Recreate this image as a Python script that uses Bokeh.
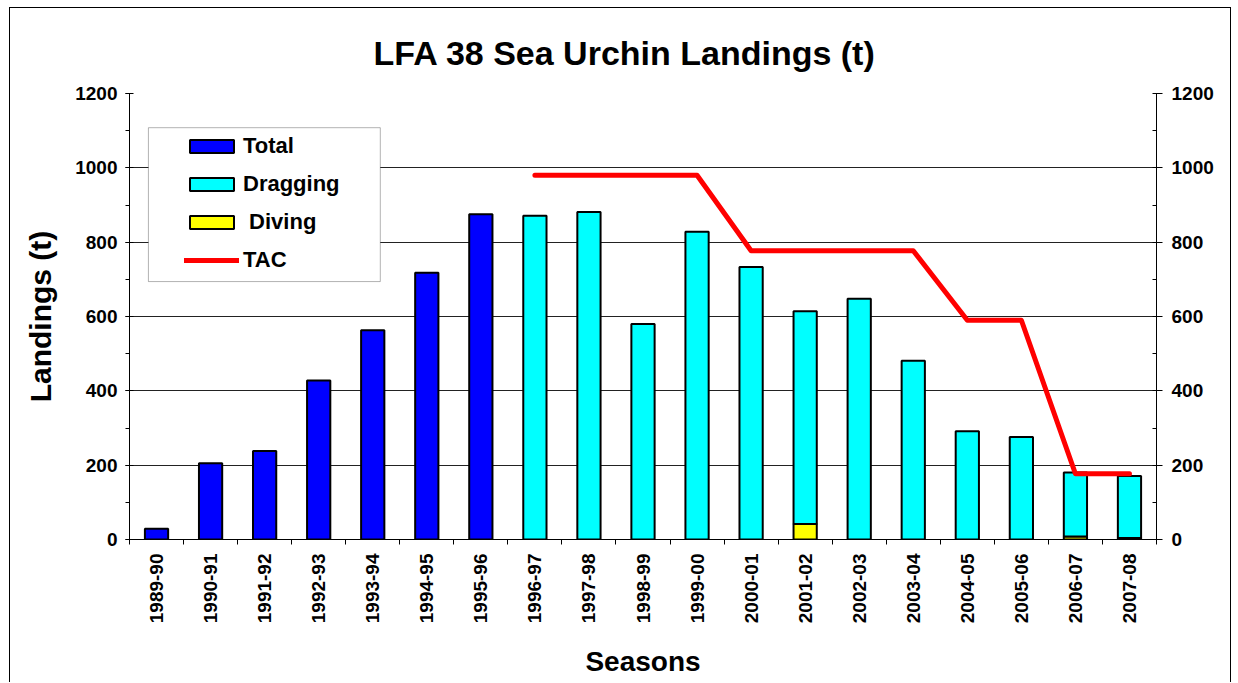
import numpy as np
from bokeh.plotting import figure
from bokeh.models import (Range1d, LinearAxis, FixedTicker, Legend, LegendItem,
                          BoxAnnotation)
from bokeh.embed import file_html
from bokeh.resources import INLINE

# ---------------- data ----------------
seasons = ["1989-90", "1990-91", "1991-92", "1992-93", "1993-94", "1994-95",
           "1995-96", "1996-97", "1997-98", "1998-99", "1999-00", "2000-01",
           "2001-02", "2002-03", "2003-04", "2004-05", "2005-06", "2006-07",
           "2007-08"]
total_seasons = seasons[:7]
total = [29, 205, 238, 428, 563, 718, 875]
split_seasons = seasons[7:]
dragging = [871, 881, 580, 828, 733, 572, 648, 481, 291, 276, 172, 167]
diving = [0, 0, 0, 0, 0, 42, 0, 0, 0, 0, 8, 4]
tac = [980, 980, 980, 980, 777, 777, 777, 777, 590, 590, 177, 177]
y_ticks = [0, 200, 400, 600, 800, 1000, 1200]

FONT = "Liberation Sans"

pos = {s: i + 0.5 for i, s in enumerate(seasons)}
x_total = [pos[s] for s in total_seasons]
x_split = [pos[s] for s in split_seasons]
drag_top = [d + v for d, v in zip(diving, dragging)]

p = figure(width=1222, height=675, output_backend="svg", toolbar_location=None,
           x_range=Range1d(0, len(seasons)), y_range=Range1d(0, 1200),
           min_border_left=119, min_border_right=76, min_border_top=85,
           min_border_bottom=144, background_fill_color="white",
           border_fill_color="white", outline_line_color=None,
           styles={"margin-left": "9px", "margin-top": "7px",
                   "border-top": "1px solid #000", "border-left": "1px solid #000",
                   "border-right": "1px solid #000"})

# title
p.title.text = "LFA 38 Sea Urchin Landings (t)"
p.title.align = "left"
p.title.offset = 244
p.title.text_font = FONT
p.title.text_font_size = "34px"
p.title.text_font_style = "bold"
p.title.text_color = "black"
p.title.standoff = 44

# grid
p.xgrid.visible = False
p.ygrid.ticker = FixedTicker(ticks=y_ticks)
p.ygrid.grid_line_color = "#222222"
p.ygrid.grid_line_width = 1

# y axes
yticker = FixedTicker(ticks=y_ticks, minor_ticks=list(range(0, 1201, 100)))
ly = p.yaxis[0]
ly.ticker = yticker
ly.axis_label = "Landings (t)"
ly.axis_label_text_font = FONT
ly.axis_label_text_font_size = "30px"
ly.axis_label_text_font_style = "bold"
ly.axis_label_text_color = "black"
ly.axis_label_standoff = 15
ly.major_label_text_font = FONT
ly.major_label_text_font_size = "19px"
ly.major_label_text_font_style = "bold"
ly.major_label_text_color = "black"
ly.major_label_standoff = 8
ly.axis_line_color = "black"
ly.major_tick_in = 4
ly.major_tick_out = 4
ly.minor_tick_in = 0
ly.minor_tick_out = 4
ly.major_tick_line_color = "black"
ly.minor_tick_line_color = "black"

ry = LinearAxis(ticker=yticker, major_label_text_font=FONT,
                major_label_text_font_size="19px", major_label_text_font_style="bold",
                major_label_text_color="black", major_label_standoff=9,
                axis_line_color="black", major_tick_in=3, major_tick_out=6,
                minor_tick_in=4, minor_tick_out=0,
                major_tick_line_color="black", minor_tick_line_color="black")
p.add_layout(ry, "right")

# x axis
xa = p.xaxis[0]
xa.ticker = FixedTicker(ticks=[pos[s] for s in seasons],
                        minor_ticks=list(range(0, len(seasons) + 1)))
xa.major_label_overrides = {pos[s]: s for s in seasons}
xa.major_label_orientation = np.pi / 2
xa.major_label_text_font = FONT
xa.major_label_text_font_size = "19px"
xa.major_label_text_font_style = "bold"
xa.major_label_text_color = "black"
xa.major_tick_line_color = None
xa.major_tick_in = 0
xa.major_tick_out = 5
xa.major_label_standoff = 9
xa.minor_tick_in = 0
xa.minor_tick_out = 5
xa.minor_tick_line_color = "black"
xa.axis_line_color = "black"
xa.axis_label = "Seasons"
xa.axis_label_text_font = FONT
xa.axis_label_text_font_size = "28px"
xa.axis_label_text_font_style = "bold"
xa.axis_label_text_color = "black"
xa.axis_label_standoff = 20

BW = 0.43
r_total = p.vbar(x=x_total, top=total, bottom=0, width=BW, fill_color="#0000FF",
                 line_color="black", line_width=2)
dv_x = [x for x, d in zip(x_split, diving) if d > 0]
dv_top = [d for d in diving if d > 0]
r_div = p.vbar(x=dv_x, top=dv_top, bottom=0, width=BW, fill_color="#FFFF00",
               line_color="black", line_width=2)
r_drag = p.vbar(x=x_split, top=drag_top, bottom=diving, width=BW,
                fill_color="#00FFFF", line_color="black", line_width=2)
r_tac = p.line(x=x_split, y=tac, line_color="#FF0000", line_width=5,
               line_cap="round", line_join="round")

# legend box
box = BoxAnnotation(left=0.35, right=4.64, top=1108, bottom=694,
                    fill_color="white", fill_alpha=1.0, line_color="black",
                    line_width=1, level="annotation")
p.add_layout(box)

legend = Legend(items=[LegendItem(label="Total", renderers=[r_total]),
                       LegendItem(label="Dragging", renderers=[r_drag]),
                       LegendItem(label=" Diving", renderers=[r_div]),
                       LegendItem(label="TAC", renderers=[r_tac])],
                location=(55, 266), padding=0, margin=0, spacing=12,
                glyph_width=55, glyph_height=16, label_height=26,
                label_standoff=4, label_text_font=FONT,
                label_text_font_size="22px", label_text_font_style="bold",
                label_text_color="black",
                border_line_color=None, background_fill_alpha=0.0)
p.add_layout(legend)

open("out.html", "w").write(file_html(p, INLINE))
